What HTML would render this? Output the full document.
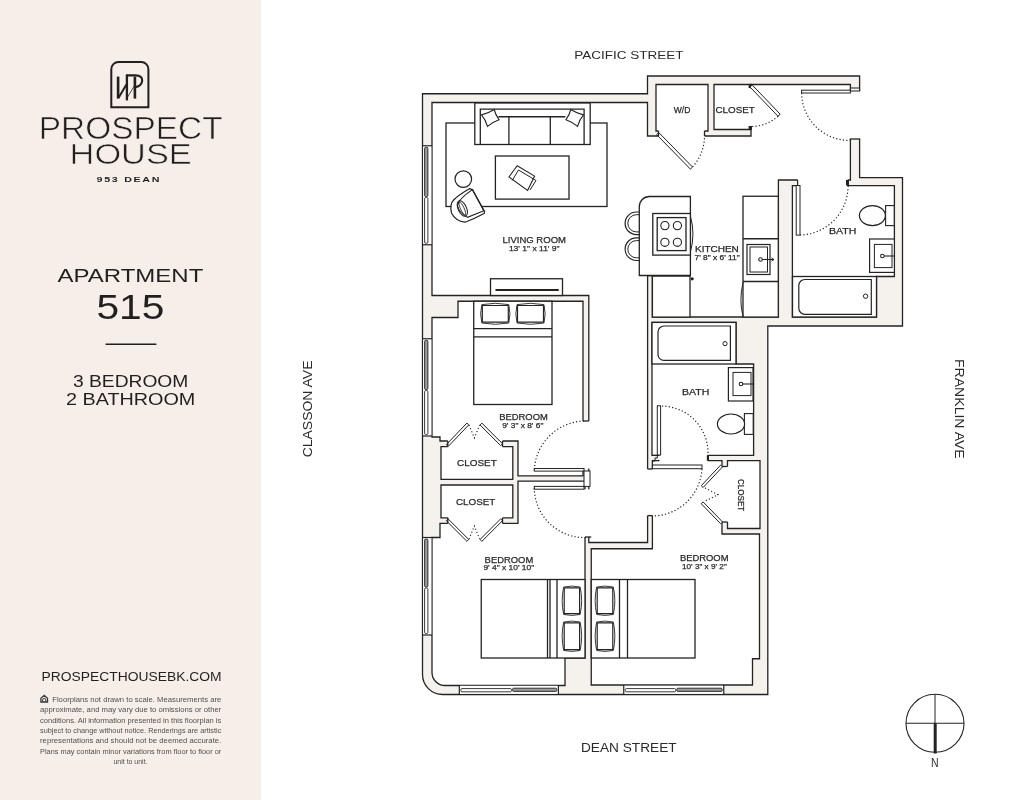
<!DOCTYPE html>
<html><head><meta charset="utf-8"><title>Prospect House 515</title>
<style>
html,body{margin:0;padding:0;background:#fff;}
body{width:1035px;height:800px;overflow:hidden;position:relative;font-family:"Liberation Sans",sans-serif;}
#left{position:absolute;left:0;top:0;width:261px;height:800px;background:#f5eee9;}
svg{position:absolute;left:0;top:0;filter:blur(0.3px);}
</style></head><body>
<div id="left"></div>
<svg width="1035" height="800" viewBox="0 0 1035 800">
<path d="M422.5,93.75 L647.5,93.75 L647.5,76 L859.6,76 L859.6,177.6 L902.5,177.6 L902.5,326 L767.8,326 L767.8,694.5 L442.5,694.5 A20,20 0 0 1 422.5,674.5 Z" fill="#f5f1ed" stroke="#232323" stroke-width="1.3" />
<polygon points="432,102.5 647.5,102.5 647.5,136 751,136 751,84.5 850.4,84.5 850.4,180 778.4,180 778.4,317 652.4,317 652.4,275.5 647.6,275.5 647.6,542.5 588.8,542.5 588.8,295.5 432,295.5" fill="#fff" stroke="#232323" stroke-width="1.3" stroke-linejoin="miter" />
<polygon points="656,84.5 708,84.5 708,131 656,131" fill="#fff" stroke="#232323" stroke-width="1.3" stroke-linejoin="miter" />
<polygon points="714,84.5 751,84.5 751,129.5 714,129.5" fill="#fff" stroke="#232323" stroke-width="1.3" stroke-linejoin="miter" />
<polygon points="792.4,185.6 894.4,185.6 894.4,276.5 876.5,276.5 876.5,317 792.4,317" fill="#fff" stroke="#232323" stroke-width="1.3" stroke-linejoin="miter" />
<polygon points="652,322.4 736,322.4 736,364 753.6,364 753.6,455.3 652,455.3" fill="#fff" stroke="#232323" stroke-width="1.3" stroke-linejoin="miter" />
<polygon points="432,317.5 458,317.5 458,301.25 583,301.25 583,475.8 518,475.8 518,441 440,441 440,437 432,437" fill="#fff" stroke="#232323" stroke-width="1.3" stroke-linejoin="miter" />
<polygon points="441,446.6 512.8,446.6 512.8,479.4 441,479.4" fill="#fff" stroke="#232323" stroke-width="1.3" stroke-linejoin="miter" />
<polygon points="441,485 512.8,485 512.8,517.8 441,517.8" fill="#fff" stroke="#232323" stroke-width="1.3" stroke-linejoin="miter" />
<path d="M432,537.5 L440,537.5 L440,523.4 L518,523.4 L518,481.1 L585,481.1 L585,658 L565,658 L565,685.5 L445,685.5 A13,13 0 0 1 432,672.5 Z" fill="#fff" stroke="#232323" stroke-width="1.3" />
<polygon points="591.25,548.75 652.4,548.75 652.4,460.6 722,460.6 722,534 759.5,534 759.5,658.75 752.5,658.75 752.5,685 591.25,685" fill="#fff" stroke="#232323" stroke-width="1.3" stroke-linejoin="miter" />
<polygon points="727.5,460.6 760,460.6 760,528.5 727.5,528.5" fill="#fff" stroke="#232323" stroke-width="1.3" stroke-linejoin="miter" />
<rect x="658.5" y="129.5" width="46.0" height="8.5" fill="#fff"/>
<rect x="749" y="88.5" width="4" height="37.5" fill="#fff"/>
<rect x="849" y="91" width="12" height="48" fill="#fff"/>
<rect x="797.6" y="178.5" width="50.0" height="9.0" fill="#fff"/>
<rect x="659.5" y="454" width="48.0" height="8" fill="#fff"/>
<rect x="646" y="469" width="8" height="46.60000000000002" fill="#fff"/>
<rect x="581.5" y="421" width="9.0" height="47.5" fill="#fff"/>
<rect x="583.5" y="489.3" width="9.0" height="47.69999999999999" fill="#fff"/>
<rect x="447.8" y="439.5" width="54.69999999999999" height="8.800000000000011" fill="#fff"/>
<rect x="447.8" y="516.5" width="54.69999999999999" height="8.5" fill="#fff"/>
<rect x="720.5" y="466.5" width="8.5" height="55.5" fill="#fff"/>
<rect x="801.6" y="90.2" width="48.8" height="2.8" fill="#fff" stroke="#232323" stroke-width="1.0" />
<rect x="850.4" y="88" width="9.2" height="3" fill="#f5f1ed" stroke="#232323" stroke-width="1.0" />
<path d="M801.6,93 A48,48 0 0 0 850.4,140.5" fill="none" stroke="#232323" stroke-width="1.2" stroke-dasharray="1.2 2.2"/>
<line x1="849.8" y1="139" x2="860.2" y2="139" stroke="#232323" stroke-width="1.3" />
<rect x="748.6" y="84.5" width="3.2" height="3.5" fill="#232323" stroke="#232323" stroke-width="0" />
<rect x="748.6" y="126" width="3.2" height="3.5" fill="#232323" stroke="#232323" stroke-width="0" />
<rect x="796.2" y="185.5" width="3.8" height="49.6" fill="#fff" stroke="#232323" stroke-width="1.0" />
<line x1="797.6" y1="180" x2="797.6" y2="185.6" stroke="#232323" stroke-width="1.2" />
<path d="M800,235 A49,49 0 0 0 848,184" fill="none" stroke="#232323" stroke-width="1.2" stroke-dasharray="1.2 2.2"/>
<rect x="846" y="180" width="3" height="5.6" fill="#232323" stroke="#232323" stroke-width="0" />
<polygon points="658.75,132.5 692.5,167 690.36,169.1 656.61,134.6" fill="#fff" stroke="#232323" stroke-width="1.0" stroke-linejoin="miter" />
<path d="M692.5,167 A47,47 0 0 0 704.5,132.5" fill="none" stroke="#232323" stroke-width="1.2" stroke-dasharray="1.2 2.2"/>
<polygon points="750,87 778,116.25 780.17,114.18 752.17,84.93" fill="#fff" stroke="#232323" stroke-width="1.0" stroke-linejoin="miter" />
<path d="M778,116.25 A40,40 0 0 1 750,126.5" fill="none" stroke="#232323" stroke-width="1.2" stroke-dasharray="1.2 2.2"/>
<rect x="657.3" y="405.8" width="3.3" height="49.2" fill="#fff" stroke="#232323" stroke-width="1.0" />
<path d="M652.2,455.3 L657.3,455.3 L657.3,458 L655,458 L655,461 L652.2,461" fill="none" stroke="#232323" stroke-width="1.0" />
<path d="M662,406 A47,47 0 0 1 708,455" fill="none" stroke="#232323" stroke-width="1.2" stroke-dasharray="1.2 2.2"/>
<rect x="652.4" y="465" width="49.6" height="3.7" fill="#fff" stroke="#232323" stroke-width="1.0" />
<path d="M702,469 A50,50 0 0 1 651,516" fill="none" stroke="#232323" stroke-width="1.2" stroke-dasharray="1.2 2.2"/>
<rect x="534.3" y="468.5" width="49.7" height="2.6" fill="#fff" stroke="#232323" stroke-width="1.0" />
<rect x="534.3" y="486.4" width="49.7" height="2.8" fill="#fff" stroke="#232323" stroke-width="1.0" />
<rect x="584" y="471" width="6" height="15.4" fill="#fff" stroke="#232323" stroke-width="1.0" />
<path d="M534.3,469.5 A51.5,51.5 0 0 1 586,421" fill="none" stroke="#232323" stroke-width="1.2" stroke-dasharray="1.2 2.2"/>
<path d="M534.3,488 A50,50 0 0 0 586,537.5" fill="none" stroke="#232323" stroke-width="1.2" stroke-dasharray="1.2 2.2"/>
<polygon points="446.25,444.7 466.9,423.1 468.78,424.9 448.13,446.5" fill="#fff" stroke="#232323" stroke-width="1.0" stroke-linejoin="miter" />
<polygon points="502.5,443.75 481.9,423.1 480.06,424.94 500.66,445.59" fill="#fff" stroke="#232323" stroke-width="1.0" stroke-linejoin="miter" />
<path d="M469,425 L474.4,438 L479.6,425" fill="none" stroke="#232323" stroke-width="1.1" stroke-dasharray="1.2 2.2"/>
<polygon points="446.25,520.7 466.9,541.3 468.74,539.46 448.09,518.86" fill="#fff" stroke="#232323" stroke-width="1.0" stroke-linejoin="miter" />
<polygon points="502.5,520.7 481.9,541.3 480.06,539.46 500.66,518.86" fill="#fff" stroke="#232323" stroke-width="1.0" stroke-linejoin="miter" />
<path d="M469,539 L474.4,526 L479.6,539" fill="none" stroke="#232323" stroke-width="1.1" stroke-dasharray="1.2 2.2"/>
<polygon points="722.5,466.9 703.1,487.5 701.21,485.72 720.61,465.12" fill="#fff" stroke="#232323" stroke-width="1.0" stroke-linejoin="miter" />
<polygon points="703.1,501.9 722.5,521.9 720.63,523.71 701.23,503.71" fill="#fff" stroke="#232323" stroke-width="1.0" stroke-linejoin="miter" />
<path d="M705,488 L718.1,494.75 L705,501" fill="none" stroke="#232323" stroke-width="1.1" stroke-dasharray="1.2 2.2"/>
<line x1="583" y1="421" x2="588.8" y2="421" stroke="#232323" stroke-width="1.3" />
<line x1="585" y1="537" x2="591.25" y2="537" stroke="#232323" stroke-width="1.3" />
<line x1="647.6" y1="515.6" x2="652.4" y2="515.6" stroke="#232323" stroke-width="1.3" />
<line x1="647.6" y1="469" x2="652.4" y2="469" stroke="#232323" stroke-width="1.3" />
<line x1="658.5" y1="131" x2="658.5" y2="136" stroke="#232323" stroke-width="1.3" />
<line x1="704.5" y1="131" x2="704.5" y2="136" stroke="#232323" stroke-width="1.3" />
<line x1="447.8" y1="441" x2="447.8" y2="446.6" stroke="#232323" stroke-width="1.3" />
<line x1="502.5" y1="441" x2="502.5" y2="446.6" stroke="#232323" stroke-width="1.3" />
<line x1="447.8" y1="517.8" x2="447.8" y2="523.4" stroke="#232323" stroke-width="1.3" />
<line x1="502.5" y1="517.8" x2="502.5" y2="523.4" stroke="#232323" stroke-width="1.3" />
<line x1="722" y1="466.5" x2="727.5" y2="466.5" stroke="#232323" stroke-width="1.3" />
<line x1="722" y1="522" x2="727.5" y2="522" stroke="#232323" stroke-width="1.3" />
<rect x="706.8" y="455.3" width="2.2" height="5.3" fill="#232323" stroke="#232323" stroke-width="0" />
<rect x="423.2" y="145.75" width="8.1" height="99.0" fill="#fff"/>
<line x1="422.5" y1="145.75" x2="432" y2="145.75" stroke="#232323" stroke-width="1.2" />
<line x1="422.5" y1="244.75" x2="432" y2="244.75" stroke="#232323" stroke-width="1.2" />
<rect x="424.6" y="147.25" width="3.3" height="49.25" rx="1.2" fill="#9a9a9a" stroke="#232323" stroke-width="0.9" />
<rect x="424.6" y="197.5" width="3.3" height="45.75" rx="1.2" fill="#fff" stroke="#232323" stroke-width="0.9" />
<rect x="423.2" y="338.75" width="8.1" height="97.25" fill="#fff"/>
<line x1="422.5" y1="338.75" x2="432" y2="338.75" stroke="#232323" stroke-width="1.2" />
<line x1="422.5" y1="436" x2="432" y2="436" stroke="#232323" stroke-width="1.2" />
<rect x="424.6" y="340.25" width="3.3" height="49.25" rx="1.2" fill="#9a9a9a" stroke="#232323" stroke-width="0.9" />
<rect x="424.6" y="390.5" width="3.3" height="44" rx="1.2" fill="#fff" stroke="#232323" stroke-width="0.9" />
<rect x="423.2" y="537.5" width="8.1" height="97.5" fill="#fff"/>
<line x1="422.5" y1="537.5" x2="432" y2="537.5" stroke="#232323" stroke-width="1.2" />
<line x1="422.5" y1="635" x2="432" y2="635" stroke="#232323" stroke-width="1.2" />
<rect x="424.6" y="539.0" width="3.3" height="48.0" rx="1.2" fill="#9a9a9a" stroke="#232323" stroke-width="0.9" />
<rect x="424.6" y="588.0" width="3.3" height="45.5" rx="1.2" fill="#fff" stroke="#232323" stroke-width="0.9" />
<rect x="459.3" y="685.8" width="99.09999999999997" height="8" fill="#fff"/>
<line x1="459.3" y1="685.1" x2="459.3" y2="694.5" stroke="#232323" stroke-width="1.2" />
<line x1="558.4" y1="685.1" x2="558.4" y2="694.5" stroke="#232323" stroke-width="1.2" />
<rect x="460.8" y="688.6" width="50.69999999999999" height="3.2" rx="1.2" fill="#fff" stroke="#232323" stroke-width="0.9" />
<rect x="512.5" y="688.2" width="44.39999999999998" height="3.2" rx="1.2" fill="#9a9a9a" stroke="#232323" stroke-width="0.9" />
<rect x="623.75" y="685.8" width="100.0" height="8" fill="#fff"/>
<line x1="623.75" y1="685.1" x2="623.75" y2="694.5" stroke="#232323" stroke-width="1.2" />
<line x1="723.75" y1="685.1" x2="723.75" y2="694.5" stroke="#232323" stroke-width="1.2" />
<rect x="625.25" y="688.6" width="50.5" height="3.2" rx="1.2" fill="#fff" stroke="#232323" stroke-width="0.9" />
<rect x="676.75" y="688.2" width="45.5" height="3.2" rx="1.2" fill="#9a9a9a" stroke="#232323" stroke-width="0.9" />
<rect x="446" y="123" width="161" height="83.5" fill="#fff" stroke="#232323" stroke-width="1.3" />
<rect x="474.8" y="103" width="115.4" height="41.5" fill="#fff" stroke="#232323" stroke-width="1.3" />
<path d="M480.3,144.5 L480.3,109.1 L584.1,109.1 L584.1,144.5" fill="none" stroke="#232323" stroke-width="1.3" />
<line x1="498.4" y1="116.7" x2="565.4" y2="116.7" stroke="#232323" stroke-width="1.6" />
<line x1="508.9" y1="116.7" x2="508.9" y2="144.5" stroke="#232323" stroke-width="1.3" />
<line x1="550.3" y1="116.7" x2="550.3" y2="144.5" stroke="#232323" stroke-width="1.3" />
<path d="M481.5,114.9 Q488,113.5 494.2,109.5 Q495.5,115 499,119.7 Q492.5,122 487.5,126.4 Q485.5,119.5 481.5,114.9 Z" fill="#fff" stroke="#232323" stroke-width="1.1" />
<path d="M583.5,114.9 Q577,113.5 570.8,109.5 Q569.5,115 566,119.7 Q572.5,122 577.5,126.4 Q579.5,119.5 583.5,114.9 Z" fill="#fff" stroke="#232323" stroke-width="1.1" />
<rect x="495.4" y="156" width="73.6" height="43.1" fill="#fff" stroke="#232323" stroke-width="1.3" />
<polygon points="508.9,177 517.2,165.7 534.6,176.1 527.6,190.4" fill="#fff" stroke="#232323" stroke-width="1.1" stroke-linejoin="miter" />
<path d="M512.2,180.5 L518.5,170 L536,180.5 L530,190" fill="none" stroke="#232323" stroke-width="1.0" />
<circle cx="463.3" cy="179.1" r="8.3" fill="#fff" stroke="#232323" stroke-width="1.2"/>
<path d="M469.3,188.7 L472.4,189.6 L484.6,211.7 L484.1,213.5 Q474,219 465,222.2 Q455.4,221 451.5,213 Q449.5,204 453.7,200 Q457,196 469.3,188.7 Z" fill="#fff" stroke="#232323" stroke-width="1.2" />
<path d="M472.4,189.6 L483.8,210.8 L467.5,217.3 Q459,213 457.5,205.5 Q458,199.5 472.4,189.6" fill="none" stroke="#232323" stroke-width="1.1" />
<ellipse cx="462.3" cy="208.5" rx="4.2" ry="8.3" transform="rotate(-25 462.3 208.5)" fill="none" stroke="#232323" stroke-width="1.0"/>
<ellipse cx="462.3" cy="208.5" rx="1.8" ry="7" transform="rotate(-25 462.3 208.5)" fill="none" stroke="#232323" stroke-width="0.8"/>
<rect x="490.5" y="278.75" width="72" height="16.75" fill="#fff" stroke="#232323" stroke-width="1.3" />
<line x1="495.5" y1="290" x2="558.75" y2="290" stroke="#232323" stroke-width="2.0" />
<path d="M639.3,212.0 L636.4,212.0 A11.3,11.3 0 0 0 636.4,234.60000000000002 L639.3,234.60000000000002" fill="#fff" stroke="#232323" stroke-width="1.2" />
<path d="M639.3,214.70000000000002 L636.4,214.70000000000002 A8.6,8.6 0 0 0 636.4,231.9 L639.3,231.9" fill="none" stroke="#232323" stroke-width="1.0" />
<path d="M639.3,237.89999999999998 L636.4,237.89999999999998 A11.3,11.3 0 0 0 636.4,260.5 L639.3,260.5" fill="#fff" stroke="#232323" stroke-width="1.2" />
<path d="M639.3,240.6 L636.4,240.6 A8.6,8.6 0 0 0 636.4,257.8 L639.3,257.8" fill="none" stroke="#232323" stroke-width="1.0" />
<path d="M639.3,275.5 L639.3,206.5 A10,10 0 0 1 649.3,196.5 L690.4,196.5 L690.4,275.5 Z" fill="#fff" stroke="#232323" stroke-width="1.3" />
<rect x="652.8" y="213.5" width="37.6" height="41.6" fill="#fff" stroke="#232323" stroke-width="1.3" />
<rect x="657.2" y="217.6" width="28.8" height="33" fill="#fff" stroke="#232323" stroke-width="1.3" />
<circle cx="664.9" cy="225.6" r="4.1" fill="none" stroke="#232323" stroke-width="1.1"/>
<circle cx="664.9" cy="242.3" r="4.1" fill="none" stroke="#232323" stroke-width="1.1"/>
<circle cx="677.4" cy="225.6" r="4.1" fill="none" stroke="#232323" stroke-width="1.1"/>
<circle cx="677.4" cy="242.3" r="4.1" fill="none" stroke="#232323" stroke-width="1.1"/>
<path d="M690.4,216 Q695.5,234 690.4,252" fill="none" stroke="#232323" stroke-width="1.0" />
<rect x="652.4" y="276.1" width="37.6" height="41" fill="#fff" stroke="#232323" stroke-width="1.3" />
<circle cx="692.2" cy="278.8" r="1.6" fill="#232323" stroke="#232323" stroke-width="0"/>
<rect x="743" y="196.25" width="35.3" height="120.8" fill="#fff" stroke="#232323" stroke-width="1.3" />
<line x1="743" y1="238.75" x2="778.3" y2="238.75" stroke="#232323" stroke-width="1.3" />
<line x1="743" y1="281.5" x2="778.3" y2="281.5" stroke="#232323" stroke-width="1.3" />
<rect x="747" y="244.5" width="23" height="30" fill="#fff" stroke="#232323" stroke-width="1.2" />
<rect x="750" y="247" width="17.5" height="25" fill="#fff" stroke="#232323" stroke-width="1.0" />
<circle cx="760.5" cy="259.5" r="1.8" fill="none" stroke="#232323" stroke-width="1.1"/>
<line x1="762.3" y1="259.5" x2="774" y2="259.5" stroke="#232323" stroke-width="1.1" />
<path d="M771.5,257.8 L774,259.5 L771.5,261.2" fill="none" stroke="#232323" stroke-width="0.9" />
<path d="M743,282.5 Q738.8,300 743,316.5" fill="none" stroke="#232323" stroke-width="1.0" />
<rect x="792.5" y="276.5" width="84" height="40.5" fill="#fff" stroke="#232323" stroke-width="1.3" />
<path d="M871.3,279.5 L804.8,279.5 A6,6 0 0 0 798.8,285.5 L798.8,308.3 A6,6 0 0 0 804.8,314.3 L871.3,314.3 Z" fill="#fff" stroke="#232323" stroke-width="1.2" />
<circle cx="865.6" cy="296.2" r="2.2" fill="none" stroke="#232323" stroke-width="1.0"/>
<rect x="885.6" y="205.6" width="8.6" height="20" fill="#fff" stroke="#232323" stroke-width="1.1" />
<ellipse cx="872.4" cy="215.6" rx="13" ry="10" fill="#fff" stroke="#232323" stroke-width="1.2"/>
<rect x="869.6" y="239" width="24.8" height="33.4" fill="#fff" stroke="#232323" stroke-width="1.2" />
<rect x="874.4" y="244.4" width="17.6" height="23.2" fill="#fff" stroke="#232323" stroke-width="1.0" />
<circle cx="882.4" cy="256" r="1.8" fill="none" stroke="#232323" stroke-width="1.1"/>
<line x1="884.2" y1="256" x2="894" y2="256" stroke="#232323" stroke-width="1.1" />
<rect x="652" y="322.4" width="84" height="41.6" fill="#fff" stroke="#232323" stroke-width="1.3" />
<path d="M730.4,326 L664,326 A6,6 0 0 0 658,332 L658,354.4 A6,6 0 0 0 664,360.4 L730.4,360.4 Z" fill="#fff" stroke="#232323" stroke-width="1.2" />
<circle cx="725" cy="343.6" r="2.1" fill="none" stroke="#232323" stroke-width="1.0"/>
<rect x="728.4" y="367.6" width="24.6" height="33.4" fill="#fff" stroke="#232323" stroke-width="1.2" />
<rect x="733" y="372.4" width="18" height="23.2" fill="#fff" stroke="#232323" stroke-width="1.0" />
<circle cx="741" cy="384" r="1.8" fill="none" stroke="#232323" stroke-width="1.1"/>
<line x1="742.8" y1="384" x2="753" y2="384" stroke="#232323" stroke-width="1.1" />
<rect x="744.4" y="413.6" width="8.8" height="20.8" fill="#fff" stroke="#232323" stroke-width="1.1" />
<ellipse cx="731" cy="424" rx="13.6" ry="10" fill="#fff" stroke="#232323" stroke-width="1.2"/>
<rect x="473.75" y="301.25" width="78.25" height="103.25" fill="#fff" stroke="#232323" stroke-width="1.3" />
<line x1="473.75" y1="328.7" x2="552" y2="328.7" stroke="#232323" stroke-width="1.3" />
<line x1="473.75" y1="336.8" x2="552" y2="336.8" stroke="#232323" stroke-width="1.3" />
<path d="M481.8,304.6 Q495.3,302.0 508.8,304.6 Q511.1,313.8 508.8,323.0 Q495.3,325.6 481.8,323.0 Q479.5,313.8 481.8,304.6 Z" fill="#fff" stroke="#232323" stroke-width="0.9" />
<rect x="482.3" y="305.5" width="26.0" height="16.599999999999977" rx="0.6" fill="none" stroke="#232323" stroke-width="1.2" />
<path d="M517.0,304.6 Q530.5,302.0 544.0,304.6 Q546.3,313.8 544.0,323.0 Q530.5,325.6 517.0,323.0 Q514.7,313.8 517.0,304.6 Z" fill="#fff" stroke="#232323" stroke-width="0.9" />
<rect x="517.5" y="305.5" width="26.0" height="16.599999999999977" rx="0.6" fill="none" stroke="#232323" stroke-width="1.2" />
<rect x="481.25" y="579.5" width="103.75" height="78.5" fill="#fff" stroke="#232323" stroke-width="1.3" />
<line x1="547.5" y1="579.5" x2="547.5" y2="658" stroke="#232323" stroke-width="1.3" />
<line x1="550" y1="579.5" x2="550" y2="658" stroke="#232323" stroke-width="1.3" />
<line x1="557" y1="579.5" x2="557" y2="658" stroke="#232323" stroke-width="1.3" />
<path d="M563.7,587.0 Q571.9000000000001,585.2 580.1,587.0 Q583.2,600.75 580.1,614.5 Q571.9000000000001,616.3 563.7,614.5 Q560.6,600.75 563.7,587.0 Z" fill="#fff" stroke="#232323" stroke-width="0.9" />
<rect x="564.2" y="587.9" width="15.399999999999977" height="25.7" rx="0.6" fill="none" stroke="#232323" stroke-width="1.2" />
<path d="M563.7,622.0 Q571.9000000000001,620.2 580.1,622.0 Q583.2,636.25 580.1,650.5 Q571.9000000000001,652.3 563.7,650.5 Q560.6,636.25 563.7,622.0 Z" fill="#fff" stroke="#232323" stroke-width="0.9" />
<rect x="564.2" y="622.9" width="15.399999999999977" height="26.7" rx="0.6" fill="none" stroke="#232323" stroke-width="1.2" />
<rect x="591.25" y="579.5" width="103.75" height="78.5" fill="#fff" stroke="#232323" stroke-width="1.3" />
<line x1="619.5" y1="579.5" x2="619.5" y2="658" stroke="#232323" stroke-width="1.3" />
<line x1="627.5" y1="579.5" x2="627.5" y2="658" stroke="#232323" stroke-width="1.3" />
<path d="M596.7,587.0 Q605.0,585.2 613.3,587.0 Q616.4,600.75 613.3,614.5 Q605.0,616.3 596.7,614.5 Q593.6,600.75 596.7,587.0 Z" fill="#fff" stroke="#232323" stroke-width="0.9" />
<rect x="597.2" y="587.9" width="15.599999999999909" height="25.7" rx="0.6" fill="none" stroke="#232323" stroke-width="1.2" />
<path d="M596.7,622.0 Q605.0,620.2 613.3,622.0 Q616.4,636.25 613.3,650.5 Q605.0,652.3 596.7,650.5 Q593.6,636.25 596.7,622.0 Z" fill="#fff" stroke="#232323" stroke-width="0.9" />
<rect x="597.2" y="622.9" width="15.599999999999909" height="26.7" rx="0.6" fill="none" stroke="#232323" stroke-width="1.2" />
<circle cx="935" cy="723.3" r="29" fill="none" stroke="#232323" stroke-width="1.1"/>
<line x1="906" y1="723.3" x2="964" y2="723.3" stroke="#232323" stroke-width="1.1" />
<line x1="935" y1="694.3" x2="935" y2="723.3" stroke="#232323" stroke-width="1.0" />
<line x1="935.2" y1="723.3" x2="935.2" y2="753.5" stroke="#232323" stroke-width="3.0" />
<text x="574.2" y="58.9" font-family='"Liberation Sans", sans-serif' font-size="11.6" font-weight="normal" fill="#2a2a2a" textLength="109.39999999999998" lengthAdjust="spacingAndGlyphs" >PACIFIC STREET</text>
<text x="581" y="752.3" font-family='"Liberation Sans", sans-serif' font-size="11.9" font-weight="normal" fill="#2a2a2a" textLength="95.60000000000002" lengthAdjust="spacingAndGlyphs" >DEAN STREET</text>
<text x="0" y="0" font-family='"Liberation Sans", sans-serif' font-size="12.3" font-weight="normal" fill="#2a2a2a" textLength="96.75" lengthAdjust="spacingAndGlyphs" transform="translate(311.9,457.3) rotate(-90)" >CLASSON AVE</text>
<text x="0" y="0" font-family='"Liberation Sans", sans-serif' font-size="12.3" font-weight="normal" fill="#2a2a2a" textLength="99.75" lengthAdjust="spacingAndGlyphs" transform="translate(955,359) rotate(90)" >FRANKLIN AVE</text>
<text x="931" y="766.9" font-family='"Liberation Sans", sans-serif' font-size="12.3" font-weight="normal" fill="#2a2a2a" textLength="7.600000000000023" lengthAdjust="spacingAndGlyphs" >N</text>
<text x="673.75" y="112.5" font-family='"Liberation Sans", sans-serif' font-size="9" font-weight="normal" fill="#2a2a2a" textLength="16.549999999999955" lengthAdjust="spacingAndGlyphs" stroke="#2a2a2a" stroke-width="0.25">W/D</text>
<text x="715.5" y="112.5" font-family='"Liberation Sans", sans-serif' font-size="9" font-weight="normal" fill="#2a2a2a" textLength="39.299999999999955" lengthAdjust="spacingAndGlyphs" stroke="#2a2a2a" stroke-width="0.25">CLOSET</text>
<text x="502.5" y="242.6" font-family='"Liberation Sans", sans-serif' font-size="9.6" font-weight="normal" fill="#2a2a2a" textLength="63.5" lengthAdjust="spacingAndGlyphs" stroke="#2a2a2a" stroke-width="0.25">LIVING ROOM</text>
<text x="508.9" y="250.6" font-family='"Liberation Sans", sans-serif' font-size="8" font-weight="normal" fill="#2a2a2a" textLength="50.700000000000045" lengthAdjust="spacingAndGlyphs" stroke="#2a2a2a" stroke-width="0.25">13' 1&quot; x 11' 9&quot;</text>
<text x="695" y="251.9" font-family='"Liberation Sans", sans-serif' font-size="8.8" font-weight="normal" fill="#2a2a2a" textLength="43.799999999999955" lengthAdjust="spacingAndGlyphs" stroke="#2a2a2a" stroke-width="0.25">KITCHEN</text>
<text x="694.5" y="259.8" font-family='"Liberation Sans", sans-serif' font-size="7" font-weight="normal" fill="#2a2a2a" textLength="45.200000000000045" lengthAdjust="spacingAndGlyphs" stroke="#2a2a2a" stroke-width="0.25">7' 8&quot; x 6' 11&quot;</text>
<text x="829" y="234.4" font-family='"Liberation Sans", sans-serif' font-size="9" font-weight="normal" fill="#2a2a2a" textLength="27.299999999999955" lengthAdjust="spacingAndGlyphs" stroke="#2a2a2a" stroke-width="0.25">BATH</text>
<text x="682" y="395" font-family='"Liberation Sans", sans-serif' font-size="9" font-weight="normal" fill="#2a2a2a" textLength="27.299999999999955" lengthAdjust="spacingAndGlyphs" stroke="#2a2a2a" stroke-width="0.25">BATH</text>
<text x="499.2" y="420" font-family='"Liberation Sans", sans-serif' font-size="9" font-weight="normal" fill="#2a2a2a" textLength="48.599999999999966" lengthAdjust="spacingAndGlyphs" stroke="#2a2a2a" stroke-width="0.25">BEDROOM</text>
<text x="502.2" y="428" font-family='"Liberation Sans", sans-serif' font-size="7.8" font-weight="normal" fill="#2a2a2a" textLength="41.19999999999999" lengthAdjust="spacingAndGlyphs" stroke="#2a2a2a" stroke-width="0.25">9' 3&quot; x 8' 6&quot;</text>
<text x="457.1" y="466.25" font-family='"Liberation Sans", sans-serif' font-size="9.5" font-weight="normal" fill="#2a2a2a" textLength="39.69999999999999" lengthAdjust="spacingAndGlyphs" stroke="#2a2a2a" stroke-width="0.25">CLOSET</text>
<text x="456" y="504.7" font-family='"Liberation Sans", sans-serif' font-size="9.5" font-weight="normal" fill="#2a2a2a" textLength="39.30000000000001" lengthAdjust="spacingAndGlyphs" stroke="#2a2a2a" stroke-width="0.25">CLOSET</text>
<text x="484.6" y="562.6" font-family='"Liberation Sans", sans-serif' font-size="9" font-weight="normal" fill="#2a2a2a" textLength="48.69999999999993" lengthAdjust="spacingAndGlyphs" stroke="#2a2a2a" stroke-width="0.25">BEDROOM</text>
<text x="483.4" y="570.3" font-family='"Liberation Sans", sans-serif' font-size="7.6" font-weight="normal" fill="#2a2a2a" textLength="50.80000000000007" lengthAdjust="spacingAndGlyphs" stroke="#2a2a2a" stroke-width="0.25">9' 4&quot; x 10' 10&quot;</text>
<text x="679.9" y="561.3" font-family='"Liberation Sans", sans-serif' font-size="9" font-weight="normal" fill="#2a2a2a" textLength="48.60000000000002" lengthAdjust="spacingAndGlyphs" stroke="#2a2a2a" stroke-width="0.25">BEDROOM</text>
<text x="682" y="569.4" font-family='"Liberation Sans", sans-serif' font-size="7.8" font-weight="normal" fill="#2a2a2a" textLength="44.799999999999955" lengthAdjust="spacingAndGlyphs" stroke="#2a2a2a" stroke-width="0.25">10' 3&quot; x 9' 2&quot;</text>
<text x="0" y="0" font-family='"Liberation Sans", sans-serif' font-size="9" font-weight="normal" fill="#2a2a2a" textLength="32.3" lengthAdjust="spacingAndGlyphs" transform="translate(738.2,479) rotate(90)" stroke="#2a2a2a" stroke-width="0.25">CLOSET</text>
<text x="38.7" y="139" font-family='"Liberation Sans", sans-serif' font-size="30.5" font-weight="normal" fill="#231f1e" textLength="183.89999999999998" lengthAdjust="spacingAndGlyphs" stroke="#f5eee9" stroke-width="0.6">PROSPECT</text>
<text x="69.6" y="164.1" font-family='"Liberation Sans", sans-serif' font-size="29.5" font-weight="normal" fill="#231f1e" textLength="122.1" lengthAdjust="spacingAndGlyphs" stroke="#f5eee9" stroke-width="0.6">HOUSE</text>
<text x="96.6" y="181.7" font-family='"Liberation Sans", sans-serif' font-size="7.6" font-weight="bold" fill="#231f1e" textLength="64.6" lengthAdjust="spacingAndGlyphs" letter-spacing="1.2">953 DEAN</text>
<text x="57.6" y="282" font-family='"Liberation Sans", sans-serif' font-size="18.9" font-weight="normal" fill="#231f1e" textLength="145.70000000000002" lengthAdjust="spacingAndGlyphs" >APARTMENT</text>
<text x="96.4" y="318.6" font-family='"Liberation Sans", sans-serif' font-size="34.3" font-weight="normal" fill="#231f1e" textLength="67.9" lengthAdjust="spacingAndGlyphs" >515</text>
<line x1="105.6" y1="344.2" x2="156.4" y2="344.2" stroke="#231f1e" stroke-width="1.5" />
<text x="73" y="387" font-family='"Liberation Sans", sans-serif' font-size="16" font-weight="normal" fill="#231f1e" textLength="115.30000000000001" lengthAdjust="spacingAndGlyphs" >3 BEDROOM</text>
<text x="66" y="405" font-family='"Liberation Sans", sans-serif' font-size="16" font-weight="normal" fill="#231f1e" textLength="129.3" lengthAdjust="spacingAndGlyphs" >2 BATHROOM</text>
<text x="41.6" y="681.4" font-family='"Liberation Sans", sans-serif' font-size="12" font-weight="normal" fill="#231f1e" textLength="180.0" lengthAdjust="spacingAndGlyphs" >PROSPECTHOUSEBK.COM</text>
<path d="M111.3,107.2 L111.3,69.2 A7.2,7.2 0 0 1 118.5,62 L141.2,62 A7.2,7.2 0 0 1 148.4,69.2 L148.4,107.2 Z" fill="none" stroke="#231f1e" stroke-width="2.0" />
<path d="M118.1,76.6 L118.1,98.6" fill="none" stroke="#231f1e" stroke-width="2.6" />
<path d="M126.9,74.4 L126.9,100.4" fill="none" stroke="#231f1e" stroke-width="2.3" />
<path d="M134.9,76.6 L134.9,98.6" fill="none" stroke="#231f1e" stroke-width="2.6" />
<path d="M118.6,97.8 L126.4,84.5" fill="none" stroke="#231f1e" stroke-width="2.0" />
<path d="M127.3,97.5 L134.6,85.5" fill="none" stroke="#231f1e" stroke-width="0.8" />
<path d="M126.9,75.4 L135.5,75.4 Q142.6,75.6 142.2,80.8 Q141.4,86.2 134.9,87.2" fill="none" stroke="#231f1e" stroke-width="2.1" />
<text x="52.2" y="701.7" font-family='"Liberation Sans", sans-serif' font-size="7.3" font-weight="normal" fill="#505050" textLength="169.10000000000002" lengthAdjust="spacingAndGlyphs" >Floorplans not drawn to scale. Measurements are</text>
<text x="40" y="712.1" font-family='"Liberation Sans", sans-serif' font-size="7.3" font-weight="normal" fill="#505050" textLength="181.3" lengthAdjust="spacingAndGlyphs" >approximate, and may vary due to omissions or other</text>
<text x="40" y="722.5" font-family='"Liberation Sans", sans-serif' font-size="7.3" font-weight="normal" fill="#505050" textLength="181.3" lengthAdjust="spacingAndGlyphs" >conditions. All information presented in this floorplan is</text>
<text x="40" y="732.9" font-family='"Liberation Sans", sans-serif' font-size="7.3" font-weight="normal" fill="#505050" textLength="181.3" lengthAdjust="spacingAndGlyphs" >subject to change without notice. Renderings are artistic</text>
<text x="40" y="743.3" font-family='"Liberation Sans", sans-serif' font-size="7.3" font-weight="normal" fill="#505050" textLength="181.3" lengthAdjust="spacingAndGlyphs" >representations and should not be deemed accurate.</text>
<text x="40" y="753.7" font-family='"Liberation Sans", sans-serif' font-size="7.3" font-weight="normal" fill="#505050" textLength="181.3" lengthAdjust="spacingAndGlyphs" >Plans may contain minor variations from floor to floor or</text>
<text x="113.5" y="764.1" font-family='"Liberation Sans", sans-serif' font-size="7.3" font-weight="normal" fill="#505050" textLength="34.0" lengthAdjust="spacingAndGlyphs" >unit to unit.</text>
<path d="M40.9,702 L40.9,698.2 L44.2,695.3 L47.5,698.2 L47.5,702 Z" fill="none" stroke="#3a3a3a" stroke-width="1.3" />
<path d="M42.6,702 L42.6,700 A1.6,1.6 0 0 1 45.8,700 L45.8,702" fill="none" stroke="#3a3a3a" stroke-width="1.0" />
</svg>
</body></html>
